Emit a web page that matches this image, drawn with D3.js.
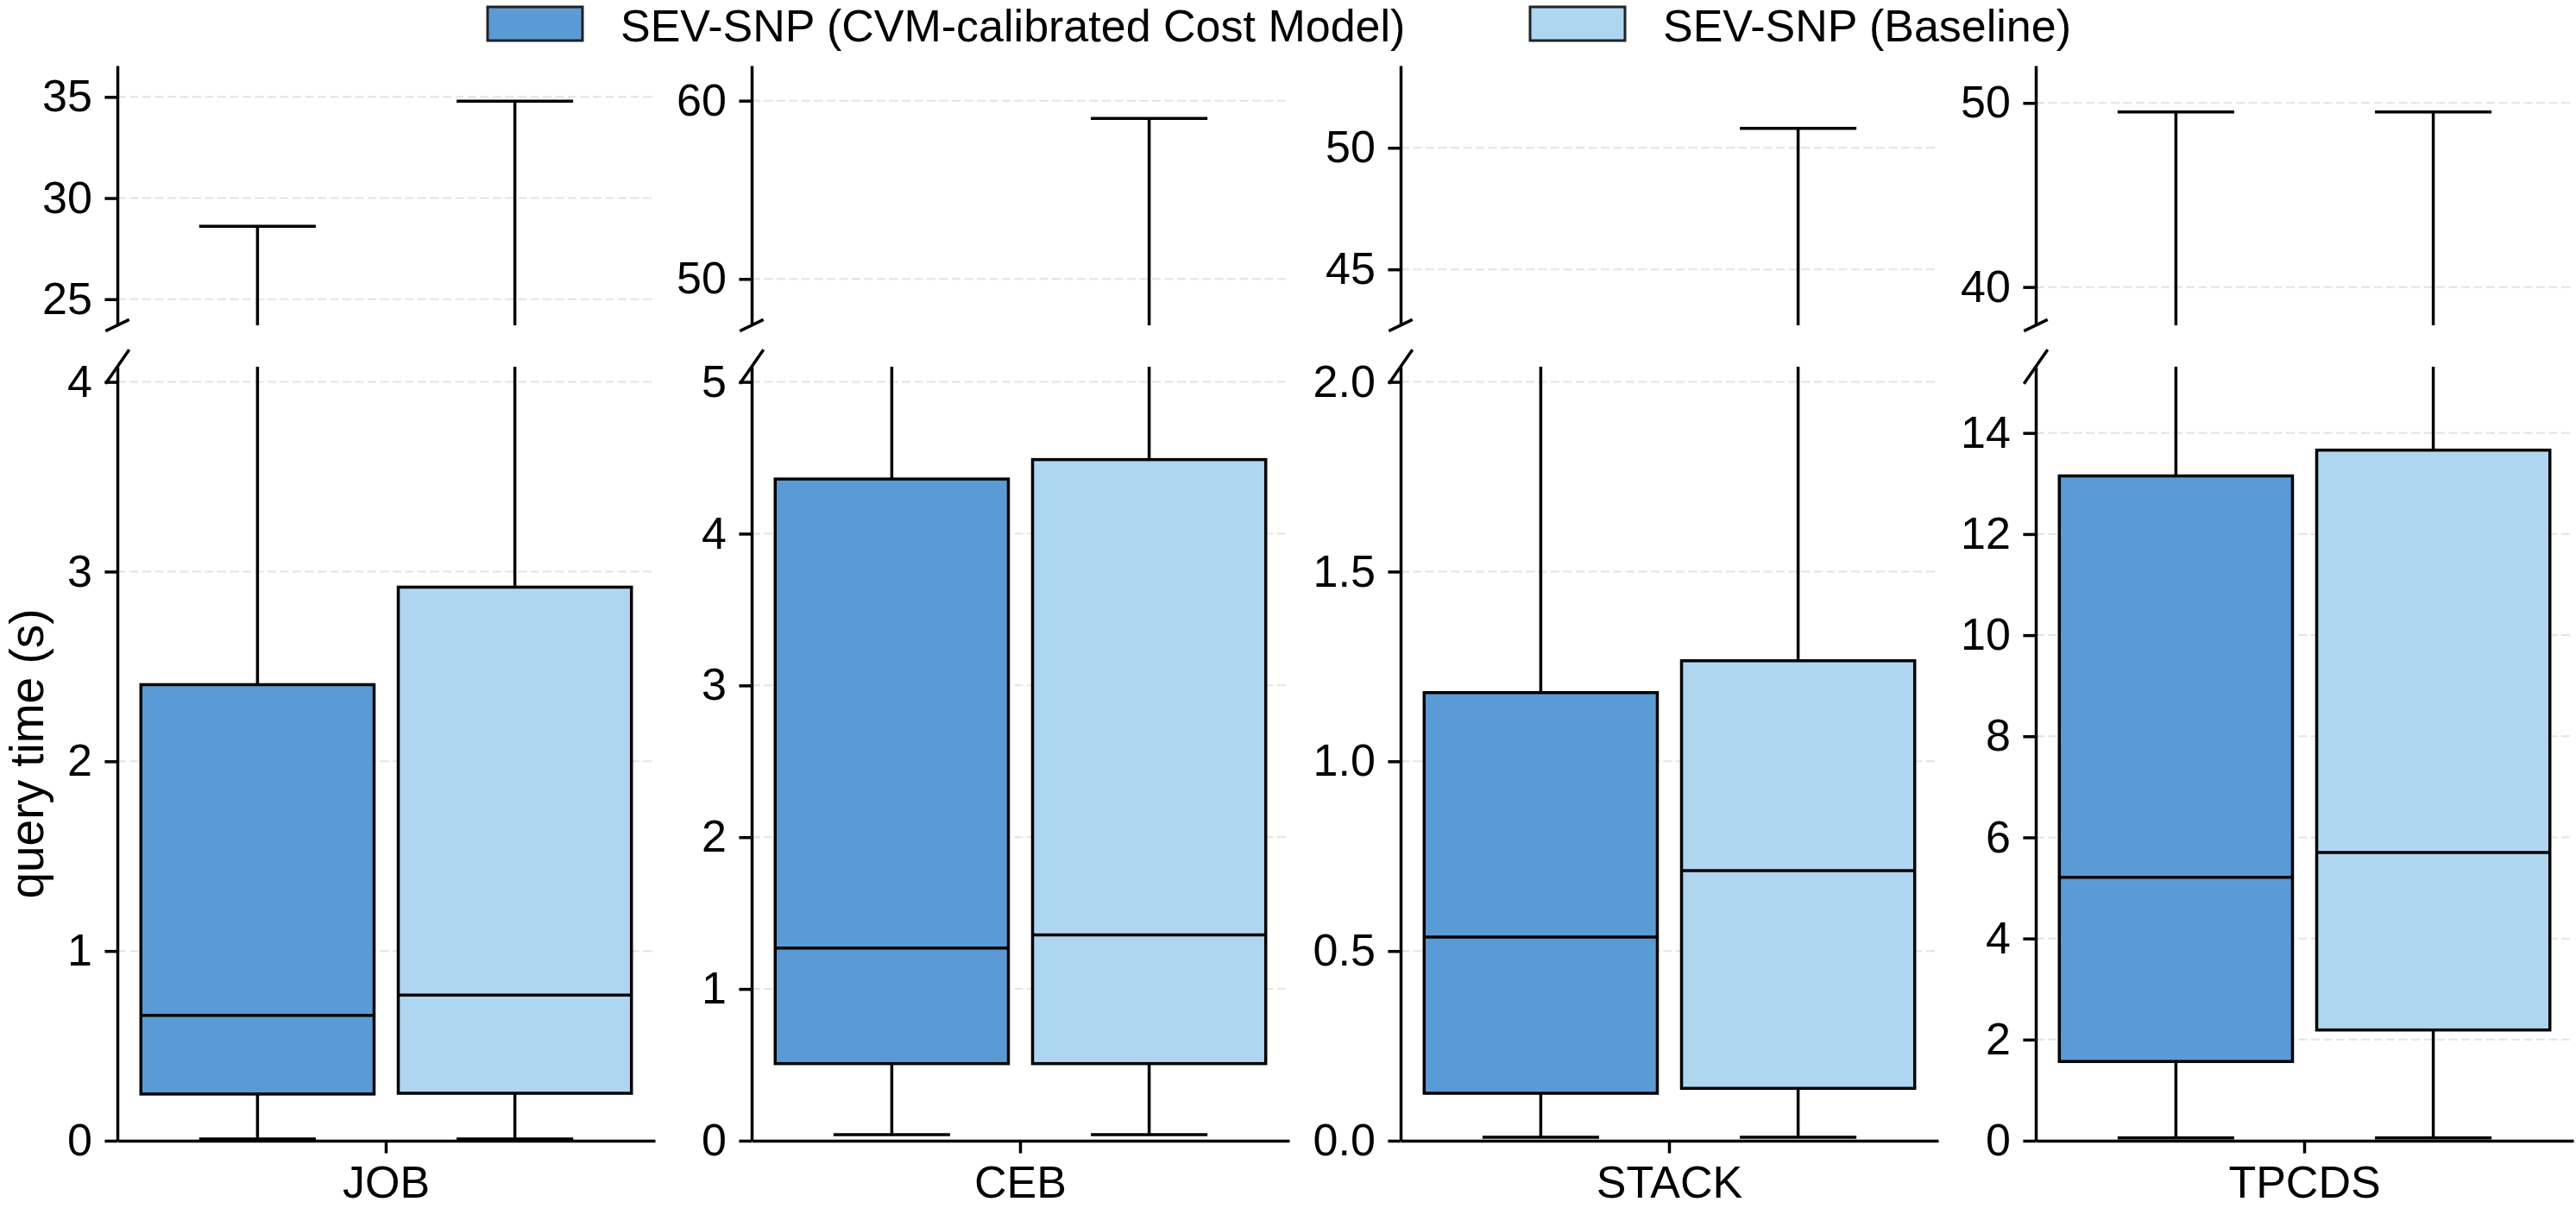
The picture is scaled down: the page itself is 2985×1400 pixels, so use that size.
<!DOCTYPE html>
<html>
<head>
<meta charset="utf-8">
<script src="https://cdn.jsdelivr.net/npm/d3@7"></script>
<style>
  body { margin: 0; background: #fff; }
  svg text { font-family: "Liberation Sans", Arial, sans-serif; }
</style>
</head>
<body>
<div id="chart"></div>
<script>
const width = 2985;
const height = 1400;

// Categories and series
const categories = ["JOB", "CEB", "STACK", "TPCDS"];
const series = ["SEV-SNP (CVM-calibrated Cost Model)", "SEV-SNP (Baseline)"];

// Box statistics (seconds), one entry per category
const cvmLow = [0.009, 0.04, 0.009, 0.055];
const cvmQ1 = [0.246, 0.508, 0.125, 1.567];
const cvmMedian = [0.661, 1.269, 0.537, 5.21];
const cvmQ3 = [2.404, 4.36, 1.181, 13.15];
const cvmHigh = [28.6, 30, 25, 49.51];

const baseLow = [0.009, 0.04, 0.009, 0.055];
const baseQ1 = [0.25, 0.508, 0.138, 2.19];
const baseMedian = [0.768, 1.356, 0.712, 5.70];
const baseQ3 = [2.918, 4.488, 1.265, 13.66];
const baseHigh = [34.79, 59.0, 50.8, 49.51];

// Axis limits and ticks of the broken y axes
const topDomains = [[23.71, 36.55], [47.4, 61.97], [42.7, 53.38], [37.92, 52.03]];
const topTicks = [[25, 30, 35], [50, 60], [45, 50], [40, 50]];
const bottomDomains = [[0, 4.08], [0, 5.1], [0, 2.04], [0, 15.31]];
const bottomTicks = [[0, 1, 2, 3, 4], [0, 1, 2, 3, 4, 5], [0, 0.5, 1, 1.5, 2], [0, 2, 4, 6, 8, 10, 12, 14]];
const bottomFormats = ["d", "d", ".1f", "d"];

const colours = {
  cvm: "#5b9bd5",
  base: "#aed6f1",
  edge: "#000",
  grid: "#e3e3e3"
};

// Layout
const panelLeft = [136, 871, 1623, 2359];
const panelWidth = 623;
const topArea = { top: 76, bottom: 377 };
const bottomArea = { top: 425, bottom: 1322 };
const fontSize = 52;
const tickLen = 14.6;
const tickPad = 14.6;
const lw = 3.5;

const seriesStats = [
  { name: series[0], fill: colours.cvm, low: cvmLow, q1: cvmQ1, med: cvmMedian, q3: cvmQ3, high: cvmHigh },
  { name: series[1], fill: colours.base, low: baseLow, q1: baseQ1, med: baseMedian, q3: baseQ3, high: baseHigh }
];

const svg = d3.select("#chart").append("svg")
  .attr("width", width)
  .attr("height", height)
  .attr("viewBox", [0, 0, width, height]);

svg.append("rect").attr("width", width).attr("height", height).attr("fill", "#fff");

categories.forEach((cat, i) => {
  const x0 = panelLeft[i];
  const xCat = d3.scaleBand().domain([cat]).range([x0, x0 + panelWidth]).paddingOuter(0.048);
  const xHue = d3.scaleBand().domain(series)
    .range([xCat(cat), xCat(cat) + xCat.bandwidth()])
    .paddingInner(0.094);

  const panels = [
    { area: topArea, domain: topDomains[i], ticks: topTicks[i], fmt: "d", bottom: false },
    { area: bottomArea, domain: bottomDomains[i], ticks: bottomTicks[i], fmt: bottomFormats[i], bottom: true }
  ];

  panels.forEach((p, k) => {
    const y = d3.scaleLinear().domain(p.domain).range([p.area.bottom, p.area.top]);
    const clipId = `clip-${i}-${k}`;
    svg.append("clipPath").attr("id", clipId)
      .append("rect")
      .attr("x", x0 - 10)
      .attr("y", p.area.top)
      .attr("width", panelWidth + 20)
      .attr("height", p.area.bottom - p.area.top);

    // Grid lines
    svg.append("g").selectAll("line")
      .data(p.ticks)
      .join("line")
      .attr("x1", x0)
      .attr("x2", x0 + panelWidth)
      .attr("y1", d => y(d))
      .attr("y2", d => y(d))
      .attr("stroke", colours.grid)
      .attr("stroke-width", 2)
      .attr("stroke-dasharray", "10,4.5");

    // Boxes and whiskers
    const marks = svg.append("g").attr("clip-path", `url(#${clipId})`);
    seriesStats.forEach(s => {
      const bx = xHue(s.name);
      const bw = xHue.bandwidth();
      const cx = bx + bw / 2;

      marks.append("line")
        .attr("x1", cx).attr("x2", cx)
        .attr("y1", y(s.q3[i])).attr("y2", y(s.high[i]))
        .attr("stroke", colours.edge).attr("stroke-width", lw);
      marks.append("line")
        .attr("x1", cx).attr("x2", cx)
        .attr("y1", y(s.q1[i])).attr("y2", y(s.low[i]))
        .attr("stroke", colours.edge).attr("stroke-width", lw);

      [s.high[i], s.low[i]].forEach(v => {
        marks.append("line")
          .attr("x1", cx - bw / 4).attr("x2", cx + bw / 4)
          .attr("y1", y(v)).attr("y2", y(v))
          .attr("stroke", colours.edge).attr("stroke-width", lw);
      });

      marks.append("rect")
        .attr("x", bx)
        .attr("y", y(s.q3[i]))
        .attr("width", bw)
        .attr("height", y(s.q1[i]) - y(s.q3[i]))
        .attr("fill", s.fill)
        .attr("stroke", colours.edge)
        .attr("stroke-width", lw);

      marks.append("line")
        .attr("x1", bx).attr("x2", bx + bw)
        .attr("y1", y(s.med[i])).attr("y2", y(s.med[i]))
        .attr("stroke", colours.edge).attr("stroke-width", lw);
    });

    // Y axis
    const yAxis = d3.axisLeft(y)
      .tickValues(p.ticks)
      .tickSize(tickLen)
      .tickSizeOuter(0)
      .tickPadding(tickPad)
      .tickFormat(d3.format(p.fmt));

    const gy = svg.append("g")
      .attr("transform", `translate(${x0}, 0)`)
      .call(yAxis);
    gy.select(".domain").attr("stroke", colours.edge).attr("stroke-width", lw);
    gy.selectAll(".tick line").attr("stroke", colours.edge).attr("stroke-width", lw);
    gy.selectAll("text")
      .attr("fill", "#000")
      .style("font-size", `${fontSize}px`)
      .style("font-family", "'Liberation Sans', Arial, sans-serif");

    // X axis on the lower panel only
    if (p.bottom) {
      const gx = svg.append("g")
        .attr("transform", `translate(0, ${p.area.bottom})`)
        .call(d3.axisBottom(xCat).tickSize(tickLen).tickSizeOuter(0).tickPadding(tickPad));
      gx.select(".domain").attr("stroke", colours.edge).attr("stroke-width", lw);
      gx.selectAll(".tick line").attr("stroke", colours.edge).attr("stroke-width", lw);
      gx.selectAll("text")
        .attr("fill", "#000")
        .style("font-size", `${fontSize}px`)
        .style("font-family", "'Liberation Sans', Arial, sans-serif");
    }

    // Axis break marks
    const d = 0.022;
    const h = p.area.bottom - p.area.top;
    const by = p.bottom ? p.area.top : p.area.bottom;
    svg.append("line")
      .attr("x1", x0 - d * panelWidth).attr("y1", by + d * h)
      .attr("x2", x0 + d * panelWidth).attr("y2", by - d * h)
      .attr("stroke", colours.edge).attr("stroke-width", lw);
  });
});

// Y axis label
svg.append("text")
  .attr("transform", `translate(50, ${(bottomArea.top + bottomArea.bottom) / 2}) rotate(-90)`)
  .style("text-anchor", "middle")
  .style("font-size", "55px")
  .text("query time (s)");

// Legend
const legendItems = [
  { label: series[0], fill: colours.cvm, x: 565 },
  { label: series[1], fill: colours.base, x: 1773 }
];
const legend = svg.append("g");
legendItems.forEach(item => {
  legend.append("rect")
    .attr("x", item.x)
    .attr("y", 8)
    .attr("width", 110)
    .attr("height", 39)
    .attr("fill", item.fill)
    .attr("stroke", "#222")
    .attr("stroke-width", 3);
  legend.append("text")
    .attr("x", item.x + 154)
    .attr("y", 48)
    .style("font-size", `${fontSize}px`)
    .text(item.label);
});
</script>
</body>
</html>
